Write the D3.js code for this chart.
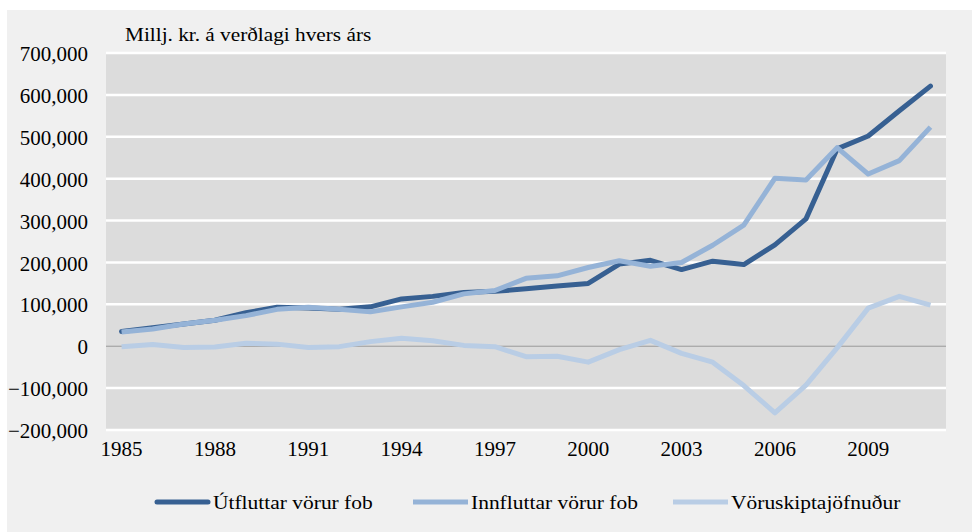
<!DOCTYPE html>
<html>
<head>
<meta charset="utf-8">
<script src="https://cdn.jsdelivr.net/npm/d3@7"></script>
<style>
  body { margin: 0; background: #fff; }
  text { font-family: "Liberation Serif", "Times New Roman", serif; fill: #000; }
</style>
</head>
<body>
<div id="chart"></div>
<script>
var years = d3.range(1985, 2012);

// Millj. kr.
var utflutt = [35000, 44000, 53000, 62000, 80000, 93000, 91000, 88000, 94000, 113000,
    119000, 128000, 131000, 137000, 144000, 150000, 196000, 205000, 183000, 203000,
    195000, 242000, 304000, 471000, 502000, 562000, 621000];
var innflutt = [34000, 41000, 53000, 62000, 73000, 88000, 93000, 88000, 82000, 94000,
    105000, 125000, 133000, 162000, 168000, 188000, 204000, 191000, 200000, 241000,
    289000, 401000, 397000, 474000, 411000, 443000, 523000];
var jofnudur = [-1000, 4000, -3000, -2000, 7000, 5000, -3000, -1000, 11000, 19000,
    13000, 2000, -1000, -25000, -24000, -38000, -8000, 14000, -17000, -38000,
    -94000, -159000, -93000, -4000, 91000, 119000, 98000];

var seriesNames = ["Útfluttar vörur fob", "Innfluttar vörur fob", "Vöruskiptajöfnuður"];
var seriesColors = ["#376092", "#95b3d7", "#b9cde5"];
var yTicks = [-200000, -100000, 0, 100000, 200000, 300000, 400000, 500000, 600000, 700000];
var xTickYears = years.filter(function (d) { return (d - 1985) % 3 === 0; });

var W = 979, H = 532;
var margin = {top: 53, right: 33, bottom: 102, left: 106};
var width = W - margin.left - margin.right,
    height = H - margin.top - margin.bottom;

var svg = d3.select("#chart").append("svg")
    .attr("width", W)
    .attr("height", H);

// outer panel
svg.append("rect")
    .attr("x", 7).attr("y", 10)
    .attr("width", 965).attr("height", H - 10)
    .attr("fill", "#f0f0f0");

var g = svg.append("g")
    .attr("transform", "translate(" + margin.left + "," + margin.top + ")");

var x = d3.scaleBand()
    .domain(years)
    .range([0, width])
    .padding(0);

var y = d3.scaleLinear()
    .domain([-200000, 700000])
    .range([height, 0]);

// plot area
g.append("rect")
    .attr("width", width)
    .attr("height", height)
    .attr("fill", "#dcdcdc");

// gridlines
g.selectAll(".grid")
    .data(yTicks)
    .enter()
    .append("line")
    .attr("x1", 0)
    .attr("x2", width)
    .attr("y1", function (d) { return y(d); })
    .attr("y2", function (d) { return y(d); })
    .attr("stroke", function (d) { return d === 0 ? "#9a9a9a" : "#ffffff"; })
    .attr("stroke-width", function (d) { return d === 0 ? 1 : 2.5; });

//y axis labels, no ticks
var gy = g.append("g")
    .call(d3.axisLeft(y).tickValues(yTicks).tickSize(0).tickPadding(18).tickFormat(d3.format(",")));
gy.select(".domain").remove();
gy.selectAll("text")
    .style("font-family", "'Liberation Serif', 'Times New Roman', serif")
    .style("font-size", "21px")
    .attr("dy", "0.36em");

var gx = g.append("g")
    .attr("transform", "translate(0," + height + ")")
    .call(d3.axisBottom(x).tickValues(xTickYears).tickSize(0).tickPadding(11));
gx.select(".domain").remove();
gx.selectAll("text")
    .style("font-family", "'Liberation Serif', 'Times New Roman', serif")
    .style("font-size", "21px");

// unit label, a bit wider like the original
svg.append("text")
    .attr("transform", "translate(125,41) scale(1.12,1)")
    .style("font-size", "19px")
    .text("Millj. kr. á verðlagi hvers árs");

var line = d3.line()
    .x(function (d, i) { return x(years[i]) + x.bandwidth() / 2; })
    .y(function (d) { return y(d); });

var allSeries = [utflutt, innflutt, jofnudur];

g.selectAll(".series")
    .data(allSeries)
    .enter()
    .append("path")
    .attr("d", line)
    .attr("fill", "none")
    .attr("stroke", function (d, i) { return seriesColors[i]; })
    .attr("stroke-width", 5)
    .attr("stroke-linejoin", "round")
    .attr("stroke-linecap", function (d, i) { return i === 0 ? "round" : "butt"; });

// legend
var legendX = [155, 413, 673];
var leg = svg.selectAll(".legend")
    .data(seriesNames)
    .enter()
    .append("g")
    .attr("transform", function (d, i) { return "translate(" + legendX[i] + ",502)"; });

leg.append("line")
    .attr("x1", function (d, i) { return i === 0 ? 2 : 0; })
    .attr("x2", function (d, i) { return i === 0 ? 53 : 55; })
    .attr("stroke", function (d, i) { return seriesColors[i]; })
    .attr("stroke-width", 5)
    .attr("stroke-linecap", function (d, i) { return i === 0 ? "round" : "butt"; });

leg.append("text")
    .attr("transform", "translate(58,7) scale(1.13,1)")
    .style("font-size", "19px")
    .text(function (d) { return d; });
</script>
</body>
</html>
